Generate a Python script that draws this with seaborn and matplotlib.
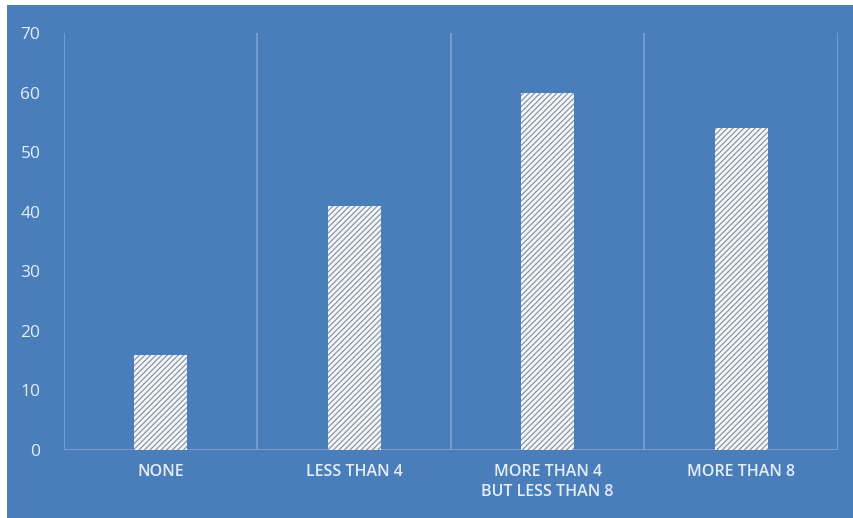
import matplotlib
matplotlib.use("Agg")
import matplotlib.pyplot as plt
import seaborn as sns
import pandas as pd
from matplotlib.patches import Rectangle

categories = ["NONE", "LESS THAN 4", "MORE THAN 4\nBUT LESS THAN 8", "MORE THAN 8"]
values = [16, 41, 60, 54]
y_ticks = [0, 10, 20, 30, 40, 50, 60, 70]

BG = "#4a7ebb"
GRID = "#7ea3d2"
TEXT = "#e4eefa"

sns.set_theme(style="white")
plt.rcParams["font.family"] = ["Open Sans", "DejaVu Sans"]
plt.rcParams["hatch.linewidth"] = 0.9

df = pd.DataFrame({"category": categories, "value": values})

fig = plt.figure(figsize=(8.54, 5.18), dpi=100, facecolor="white")
fig.patches.append(Rectangle((7 / 854, 0), 1, 1 - 5 / 518, transform=fig.transFigure,
                             facecolor=BG, edgecolor="none", zorder=-10))
ax = fig.add_axes([64 / 854, 1 - 450 / 518, (838 - 64) / 854, (450 - 33) / 518])
ax.set_zorder(1)
ax.set_facecolor(BG)

sns.barplot(data=df, x="category", y="value", ax=ax, width=0.275,
            color="white", saturation=1)
for bar in ax.patches:
    bar.set_facecolor("#f4f8fc")
    bar.set_edgecolor("#8a949e")
    bar.set_linewidth(0)
    bar.set_hatch("//////")
    bar.set_zorder(3)

ax.set_ylim(0, 70)
ax.set_xlim(-0.5, len(categories) - 0.5)
ax.set_yticks(y_ticks)
ax.set_xlabel("")
ax.set_ylabel("")

# vertical separators between categories
for xb in [i - 0.5 for i in range(len(categories) + 1)]:
    ax.axvline(xb, color=GRID, linewidth=1.2, zorder=1)
ax.axhline(0, color=GRID, linewidth=1.2, zorder=1)

for side in ax.spines.values():
    side.set_visible(False)

ax.tick_params(axis="y", length=0, pad=17, labelsize=12.5, labelcolor=TEXT)
ax.tick_params(axis="x", length=0, pad=10, labelsize=11.5, labelcolor=TEXT)
for lbl in ax.get_xticklabels():
    lbl.set_linespacing(1.35)
    lbl.set_fontweight("semibold")

fig.savefig("out.png", dpi=100, facecolor="white")
